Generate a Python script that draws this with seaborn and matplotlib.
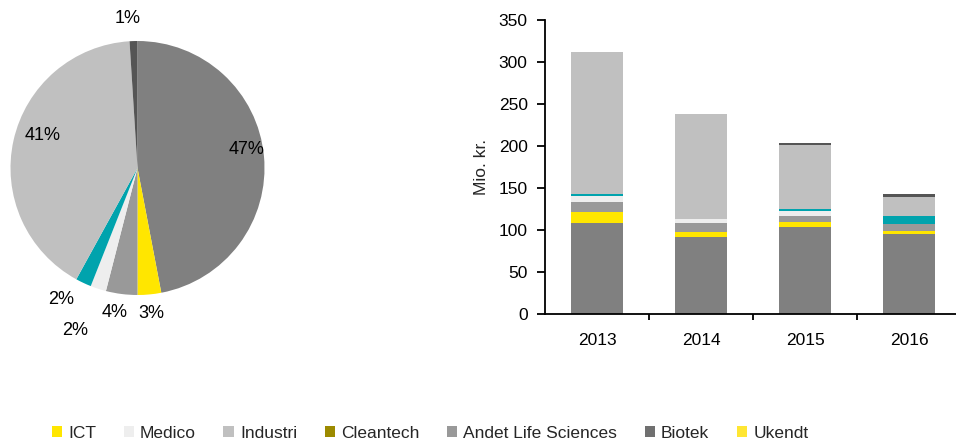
import matplotlib
matplotlib.use("Agg")
import matplotlib.pyplot as plt
from matplotlib.patches import Patch
import numpy as np
import pandas as pd
import seaborn as sns

# ---------------- data ----------------
years = ["2013", "2014", "2015", "2016"]
biotek = [108, 92, 104, 95]
ict = [14, 6, 6, 4]
andet = [11.5, 10, 7, 8]
medico = [7, 5, 5.5, 0]
cleantech = [2, 0, 2.5, 10]
industri = [170, 125.5, 76.5, 21.8]
ukendt = [0, 0, 1.5, 3.6]

pie_values = [47, 3, 4, 2, 2, 41, 1]
pie_labels = ["47%", "3%", "4%", "2%", "2%", "41%", "1%"]

legend_names = ["ICT", "Medico", "Industri", "Cleantech",
                "Andet Life Sciences", "Biotek", "Ukendt"]
legend_colors = ["#FFE600", "#EEEEEE", "#C0C0C0", "#9C8A00",
                 "#999999", "#707070", "#FFE633"]

# ---------------- style ----------------
sns.set_theme(style="white")
plt.rcParams["font.family"] = ["Liberation Sans", "DejaVu Sans"]

fig = plt.figure(figsize=(9.56, 4.43), dpi=100)
W, H = 956, 443
FS = 12.5

# ---------------- pie ----------------
cx, cy, r = 137.5, 168, 127
ax_pie = fig.add_axes([(cx - r) / W, (H - cy - r) / H, 2 * r / W, 2 * r / H])
pie_colors = ["#808080", "#FFE600", "#999999", "#EEEEEE", "#00A3AD", "#C0C0C0", "#555555"]
wedges, _ = ax_pie.pie(pie_values, colors=pie_colors, startangle=90, counterclock=False,
                       wedgeprops=dict(linewidth=0))
ax_pie.set_xlim(-1, 1)
ax_pie.set_ylim(-1, 1)
ax_pie.set_aspect("auto")
ax_pie.axis("off")
label_dist = [0.87, 1.15, 1.15, 1.37, 1.2, 0.79, 1.18]
angle_adj = [4, 0, -2, -3, -5, -6, 2]
for w, lab, d, adj in zip(wedges, pie_labels, label_dist, angle_adj):
    ang = np.deg2rad((w.theta1 + w.theta2) / 2 + adj)
    ax_pie.text(d * np.cos(ang), d * np.sin(ang), lab, ha="center", va="center",
                fontsize=13, color="#000000")

# ---------------- stacked bars ----------------
left, right, top, bottom = 545, 956, 20, 314
ax = fig.add_axes([left / W, (H - bottom) / H, (right - left) / W, (bottom - top) / H])

series = [("Biotek", biotek, "#808080"), ("ICT", ict, "#FFE600"),
          ("Andet Life Sciences", andet, "#999999"), ("Medico", medico, "#EEEEEE"),
          ("Cleantech", cleantech, "#00A3AD"), ("Industri", industri, "#C0C0C0"),
          ("Ukendt", ukendt, "#555555")]
cum = np.cumsum(np.array([s[1] for s in series], dtype=float), axis=0)
for i in range(len(series) - 1, -1, -1):
    df = pd.DataFrame({"year": years, "value": cum[i]})
    sns.barplot(data=df, x="year", y="value", color=series[i][2], saturation=1,
                width=0.5, ax=ax, linewidth=0)

ax.set_xlim(-0.5, 3.45)
ax.set_ylim(0, 350)
ax.set_yticks(range(0, 351, 50))
ax.set_xlabel("")
ax.set_ylabel("Mio. kr.", fontsize=FS, labelpad=7)
for s in ["top", "right"]:
    ax.spines[s].set_visible(False)
for s in ["left", "bottom"]:
    ax.spines[s].set_linewidth(1.3)
    ax.spines[s].set_color("black")
ax.tick_params(axis="y", which="major", direction="out", length=5.5, width=1.3,
               labelsize=FS, pad=7, left=True, colors="black")
ax.tick_params(axis="x", which="major", length=0, labelsize=FS, pad=14)
ax.set_xticks([0.5, 1.5, 2.5], minor=True)
ax.tick_params(axis="x", which="minor", direction="out", length=4.5, width=1.3,
               bottom=True, colors="black")
for t in ax.get_xticklabels() + ax.get_yticklabels():
    t.set_color("black")

# ---------------- legend ----------------
handles = [Patch(facecolor=c, edgecolor="none", label=n) for n, c in zip(legend_names, legend_colors)]
fig.legend(handles=handles, loc="center", bbox_to_anchor=(430 / W, (H - 433) / H),
           ncol=7, frameon=False, fontsize=FS, handlelength=0.6, handleheight=0.6,
           handletextpad=0.35, columnspacing=1.58, borderpad=0)

fig.savefig("out.png", dpi=100, facecolor="white")
